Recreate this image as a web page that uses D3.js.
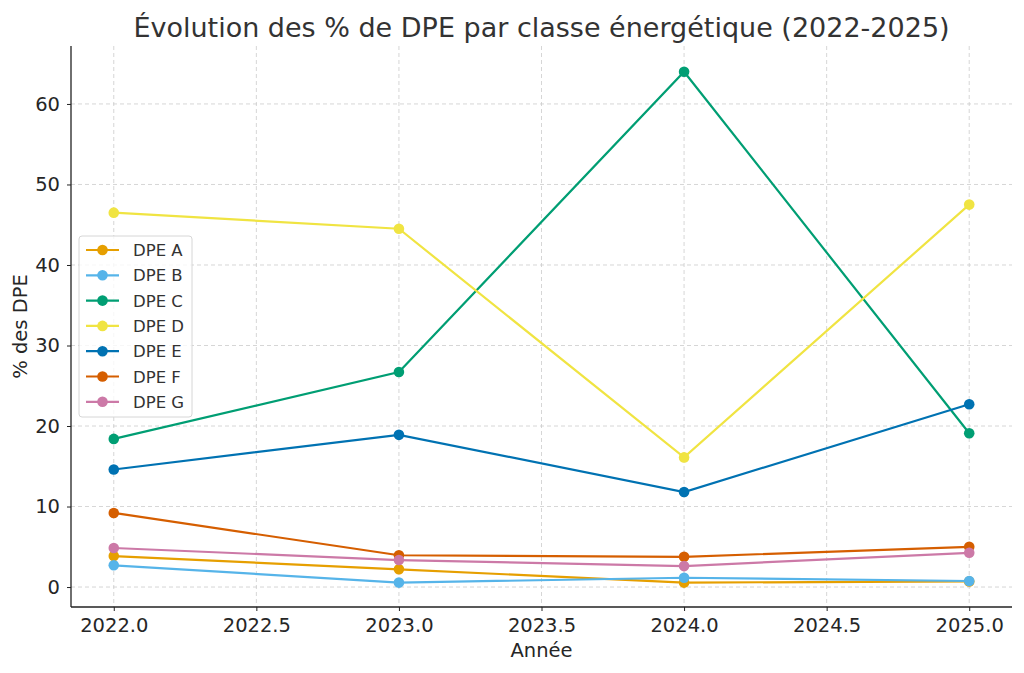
<!DOCTYPE html>
<html>
<head>
<meta charset="utf-8">
<script src="https://cdn.jsdelivr.net/npm/d3@7"></script>
<style>
  body { margin: 0; background: #fff; }
  svg { font-family: "DejaVu Sans", sans-serif; }
</style>
</head>
<body>
<div id="chart"></div>
<script>
var years = [2022, 2023, 2024, 2025];
var classes = ['DPE A', 'DPE B', 'DPE C', 'DPE D', 'DPE E', 'DPE F', 'DPE G'];
var colors = ['#E69F00', '#56B4E9', '#009E73', '#F0E442', '#0072B2', '#D55E00', '#CC79A7'];

var dpeA = [3.85, 2.2, 0.55, 0.7];
var dpeB = [2.7, 0.55, 1.15, 0.75];
var dpeC = [18.4, 26.7, 64.0, 19.1];
var dpeD = [46.5, 44.5, 16.1, 47.5];
var dpeE = [14.6, 18.9, 11.8, 22.7];
var dpeF = [9.2, 3.95, 3.75, 5.0];
var dpeG = [4.85, 3.35, 2.6, 4.25];

var xTicks = [2022.0, 2022.5, 2023.0, 2023.5, 2024.0, 2024.5, 2025.0];
var yTicks = [0, 10, 20, 30, 40, 50, 60];

var series = [dpeA, dpeB, dpeC, dpeD, dpeE, dpeF, dpeG];

var width = 1024, height = 673;
var margin = { left: 71, right: 12, top: 46, bottom: 66 };

var svg = d3.select('#chart').append('svg')
    .attr('width', width)
    .attr('height', height);

var x = d3.scaleLinear()
    .domain([2021.85, 2025.15])
    .range([margin.left, width - margin.right]);

var y = d3.scaleLinear()
    .domain([-2.48, 67.2])
    .range([height - margin.bottom, margin.top]);

// grid
var grid = svg.append('g').attr('class', 'grid');
grid.selectAll('line.gx').data(xTicks).enter().append('line')
    .attr('x1', function (d) { return x(d); })
    .attr('x2', function (d) { return x(d); })
    .attr('y1', margin.top)
    .attr('y2', height - margin.bottom)
    .attr('stroke', '#cccccc')
    .attr('stroke-width', 0.8)
    .attr('stroke-dasharray', '4,3');
grid.selectAll('line.gy').data(yTicks).enter().append('line')
    .attr('x1', margin.left)
    .attr('x2', width - margin.right)
    .attr('y1', function (d) { return y(d); })
    .attr('y2', function (d) { return y(d); })
    .attr('stroke', '#cccccc')
    .attr('stroke-width', 0.8)
    .attr('stroke-dasharray', '4,3');

// axes
var xAxis = svg.append('g')
    .attr('transform', 'translate(0,' + (height - margin.bottom) + ')')
    .call(d3.axisBottom(x).tickValues(xTicks).tickFormat(d3.format('.1f')).tickSizeOuter(0).tickSize(4).tickPadding(7));
var yAxis = svg.append('g')
    .attr('transform', 'translate(' + margin.left + ',0)')
    .call(d3.axisLeft(y).tickValues(yTicks).tickSizeOuter(0).tickSize(4).tickPadding(7));

[xAxis, yAxis].forEach(function (a) {
    a.select('.domain').attr('stroke', '#222').attr('stroke-width', 1.3);
    a.selectAll('.tick line').attr('stroke', '#222');
    a.selectAll('.tick text')
        .attr('fill', '#262626')
        .style('font-size', '19.5px')
        .style('font-family', '"DejaVu Sans", sans-serif');
});
// extend domains to full plot
xAxis.select('.domain').attr('d', 'M' + margin.left + ',0H' + (width - margin.right));
yAxis.select('.domain').attr('d', 'M0,' + margin.top + 'V' + (height - margin.bottom));

// lines
var line = d3.line()
    .x(function (d, i) { return x(years[i]); })
    .y(function (d) { return y(d); });

series.forEach(function (s, k) {
    var g = svg.append('g');
    g.append('path')
        .datum(s)
        .attr('d', line)
        .attr('fill', 'none')
        .attr('stroke', colors[k])
        .attr('stroke-width', 2.2);
    g.selectAll('circle').data(s).enter().append('circle')
        .attr('cx', function (d, i) { return x(years[i]); })
        .attr('cy', function (d) { return y(d); })
        .attr('r', 5.3)
        .attr('fill', colors[k]);
});

// title and labels
svg.append('text')
    .attr('x', (margin.left + width - margin.right) / 2)
    .attr('y', 37)
    .attr('text-anchor', 'middle')
    .attr('fill', '#333')
    .style('font-size', '27px')
    .text('Évolution des % de DPE par classe énergétique (2022-2025)');

svg.append('text')
    .attr('x', (margin.left + width - margin.right) / 2)
    .attr('y', 657)
    .attr('text-anchor', 'middle')
    .attr('fill', '#262626')
    .style('font-size', '19.5px')
    .text('Année');

svg.append('text')
    .attr('transform', 'translate(27,' + ((margin.top + height - margin.bottom) / 2) + ') rotate(-90)')
    .attr('text-anchor', 'middle')
    .attr('fill', '#262626')
    .style('font-size', '19.5px')
    .text('% des DPE');

// legend
var legend = svg.append('g').attr('transform', 'translate(79,236)');
legend.append('rect')
    .attr('width', 113)
    .attr('height', 181)
    .attr('rx', 3)
    .attr('fill', 'rgba(255,255,255,0.8)')
    .attr('stroke', '#d6d6d6');
classes.forEach(function (c, k) {
    var ly = 14 + k * 25.3;
    legend.append('line')
        .attr('x1', 7).attr('x2', 40)
        .attr('y1', ly).attr('y2', ly)
        .attr('stroke', colors[k])
        .attr('stroke-width', 2.2);
    legend.append('circle')
        .attr('cx', 23.5).attr('cy', ly).attr('r', 5.3)
        .attr('fill', colors[k]);
    legend.append('text')
        .attr('x', 54).attr('y', ly + 6)
        .attr('fill', '#333')
        .style('font-size', '16.5px')
        .text(c);
});
</script>
</body>
</html>
